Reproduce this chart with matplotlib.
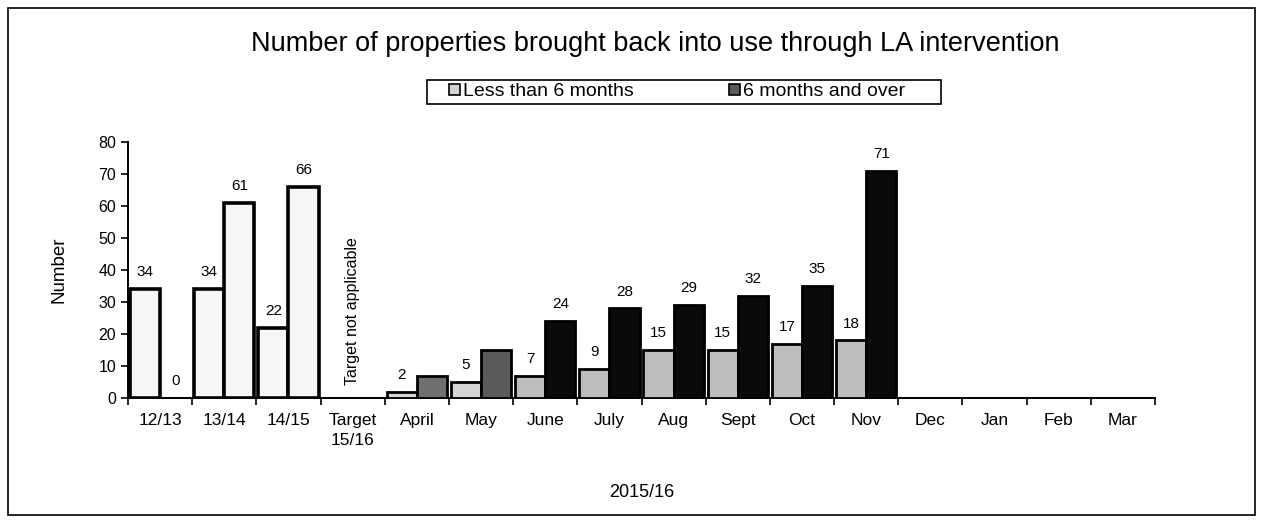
import numpy as np
import matplotlib
matplotlib.use("Agg")
import matplotlib.pyplot as plt
from matplotlib.patches import Rectangle

plt.rcParams["font.family"] = ["Liberation Sans", "DejaVu Sans"]

# ----------------- Data -----------------
categories = ["12/13", "13/14", "14/15", "Target\n15/16", "April", "May", "June",
              "July", "Aug", "Sept", "Oct", "Nov", "Dec", "Jan", "Feb", "Mar"]
less_6 = [34, 34, 22, None, 2, 5, 7, 9, 15, 15, 17, 18, None, None, None, None]
over_6 = [0, 61, 66, None, 7, 15, 24, 28, 29, 32, 35, 71, None, None, None, None]
# April / May "6 months and over" bars carry no label in the source
label_over = [True, True, True, False, False, False, True, True, True, True, True, True,
              False, False, False, False]

# bar fill styles (historic years are near-white, early months lighter)
less_colors = ["#f6f6f6"] * 3 + ["white"] + ["#d4d4d4"] * 2 + ["#bdbdbd"] * 10
over_colors = ["#f6f6f6"] * 3 + ["white"] + ["#707070", "#5a5a5a"] + ["#0a0a0a"] * 10

fig = plt.figure(figsize=(12.63, 5.25), dpi=100)
ax = fig.add_axes([128 / 1263, 1 - 398 / 525, (1155 - 128) / 1263, (398 - 142) / 525])

x = np.arange(len(categories))
w = 0.47

for i in range(len(categories)):
    lw = 2.6 if i < 3 else 2.0
    if less_6[i] is not None:
        ax.bar(x[i] - w / 2, less_6[i], w, color=less_colors[i], edgecolor="black",
               linewidth=lw, zorder=3)
        ax.annotate(str(less_6[i]), (x[i] - w / 2, less_6[i]), xytext=(0, 7),
                    textcoords="offset points", ha="center", va="bottom", fontsize=11)
    if over_6[i] is not None:
        if over_6[i] > 0:
            ax.bar(x[i] + w / 2, over_6[i], w, color=over_colors[i], edgecolor="black",
                   linewidth=lw, zorder=3)
        if label_over[i]:
            ax.annotate(str(over_6[i]), (x[i] + w / 2, over_6[i]), xytext=(0, 7),
                        textcoords="offset points", ha="center", va="bottom", fontsize=11)

ax.text(x[3], 4, "Target not applicable", rotation=90, ha="center", va="bottom",
        fontsize=11.5)

ax.set_xlim(-0.5, len(categories) - 0.5)
ax.set_ylim(0, 80)
ax.set_yticks(range(0, 81, 10))
ax.tick_params(axis="y", labelsize=11.5, direction="out", length=5, width=1.2)
ax.set_xticks(x)
ax.set_xticklabels(categories, fontsize=12.5, linespacing=1.4)
ax.tick_params(axis="x", length=0, pad=11)
ax.set_xticks(np.arange(-0.5, len(categories)), minor=True)
ax.tick_params(axis="x", which="minor", length=5, width=1.2, direction="out")

for s in ["top", "right"]:
    ax.spines[s].set_visible(False)
ax.spines["left"].set_linewidth(1.4)
ax.spines["bottom"].set_linewidth(1.4)

ax.set_ylabel("Number", fontsize=13.5, labelpad=22)
ax.set_xlabel("2015/16", fontsize=13, labelpad=26)

fig.text(655 / 1263, 1 - 44 / 525,
         "Number of properties brought back into use through LA intervention",
         ha="center", va="center", fontsize=19.5)

h1 = Rectangle((0, 0), 1, 1, facecolor="#d4d4d4", edgecolor="black", linewidth=1.2)
h2 = Rectangle((0, 0), 1, 1, facecolor="#5a5a5a", edgecolor="black", linewidth=1.2)
fig.legend([h1, h2], ["Less than 6 months", "6 months and over"], loc="center",
           bbox_to_anchor=(677 / 1263, 1 - 92 / 525), ncol=2, fontsize=14,
           frameon=False, handlelength=0.55, handleheight=0.55, handletextpad=0.15,
           columnspacing=4.9, borderpad=0.2)
# legend box (wider than its contents, as in the source)
fig.patches.append(Rectangle((427 / 1263, 1 - 104 / 525), (941 - 427) / 1263, 24 / 525,
                             transform=fig.transFigure, fill=False, edgecolor="black",
                             linewidth=1.2))

# outer border around the whole chart
fig.patches.append(Rectangle((8 / 1263, 1 - 515 / 525), (1255 - 8) / 1263, (515 - 8) / 525,
                             transform=fig.transFigure, fill=False, edgecolor="black",
                             linewidth=1.2))

fig.savefig("out.png", dpi=100)
